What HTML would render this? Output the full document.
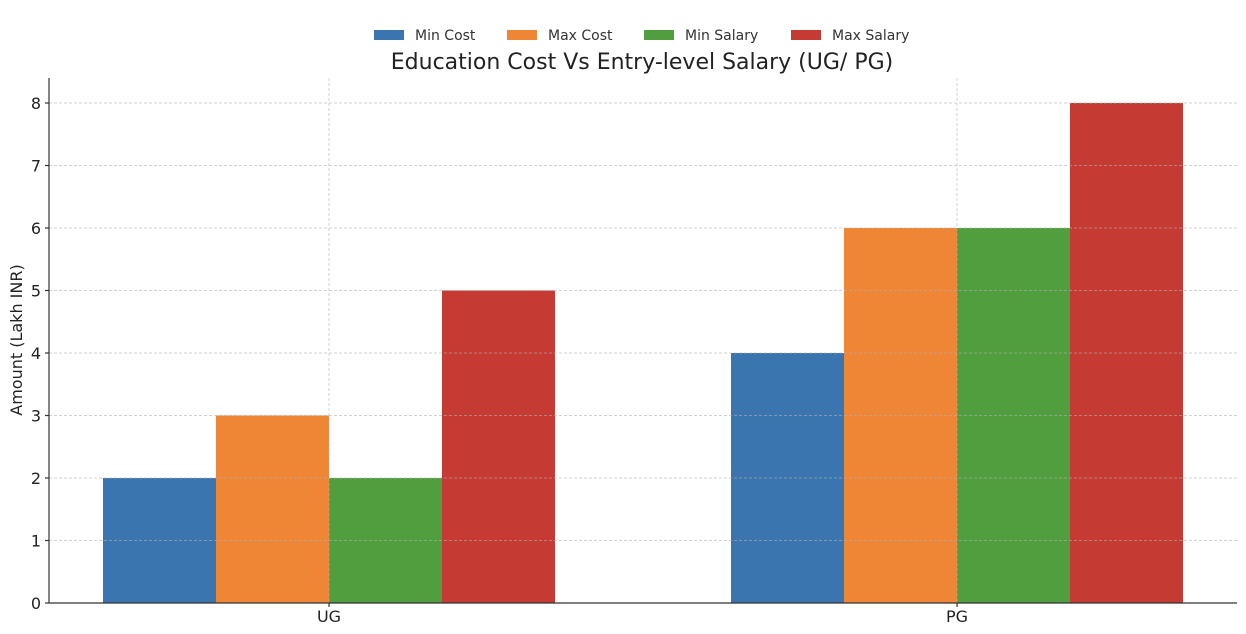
<!DOCTYPE html>
<html><head><meta charset="utf-8"><style>html,body{margin:0;padding:0;background:#fff}svg{display:block}</style></head>
<body>
<svg width="1246" height="634" xmlns="http://www.w3.org/2000/svg" font-family="DejaVu Sans, Liberation Sans, sans-serif">
<g>
<rect x="103" y="478" width="113" height="125" fill="#3a75af"/>
<rect x="216" y="415.5" width="113" height="187.5" fill="#ef8636"/>
<rect x="329" y="478" width="113" height="125" fill="#519e3e"/>
<rect x="442" y="290.5" width="113" height="312.5" fill="#c53a32"/>
<rect x="731" y="353" width="113" height="250" fill="#3a75af"/>
<rect x="844" y="228" width="113" height="375" fill="#ef8636"/>
<rect x="957" y="228" width="113" height="375" fill="#519e3e"/>
<rect x="1070" y="103" width="113" height="500" fill="#c53a32"/>
</g>
<g stroke="#b0b0b0" stroke-opacity="0.6" stroke-width="1" stroke-dasharray="3,2">
<line x1="49" x2="1237" y1="540.5" y2="540.5"/>
<line x1="49" x2="1237" y1="478" y2="478"/>
<line x1="49" x2="1237" y1="415.5" y2="415.5"/>
<line x1="49" x2="1237" y1="353" y2="353"/>
<line x1="49" x2="1237" y1="290.5" y2="290.5"/>
<line x1="49" x2="1237" y1="228" y2="228"/>
<line x1="49" x2="1237" y1="165.5" y2="165.5"/>
<line x1="49" x2="1237" y1="103" y2="103"/>
<line x1="329" x2="329" y1="78" y2="603"/>
<line x1="957" x2="957" y1="78" y2="603"/>
</g>
<g stroke="#333" stroke-width="1.2">
<line x1="49" x2="49" y1="78" y2="603"/>
<line x1="49" x2="1237" y1="603" y2="603"/>
<line x1="45" x2="49" y1="603" y2="603"/><line x1="45" x2="49" y1="540.5" y2="540.5"/>
<line x1="45" x2="49" y1="478" y2="478"/><line x1="45" x2="49" y1="415.5" y2="415.5"/>
<line x1="45" x2="49" y1="353" y2="353"/><line x1="45" x2="49" y1="290.5" y2="290.5"/>
<line x1="45" x2="49" y1="228" y2="228"/><line x1="45" x2="49" y1="165.5" y2="165.5"/>
<line x1="45" x2="49" y1="103" y2="103"/>
<line x1="329" x2="329" y1="603" y2="607"/><line x1="957" x2="957" y1="603" y2="607"/>
</g>
<g font-size="16" fill="#222" text-anchor="end">
<text x="41" y="609">0</text><text x="41" y="546.5">1</text><text x="41" y="484">2</text>
<text x="41" y="421.5">3</text><text x="41" y="359">4</text><text x="41" y="296.5">5</text>
<text x="41" y="234">6</text><text x="41" y="171.5">7</text><text x="41" y="109">8</text>
</g>
<g font-size="16" fill="#222" text-anchor="middle">
<text x="329" y="622">UG</text><text x="957" y="622">PG</text>
</g>
<text transform="translate(22,340) rotate(-90)" font-size="16" fill="#222" text-anchor="middle">Amount (Lakh INR)</text>
<text x="642" y="69" font-size="22" fill="#222" text-anchor="middle">Education Cost Vs Entry-level Salary (UG/ PG)</text>
<g font-size="14" fill="#333">
<rect x="374" y="30" width="30" height="10" fill="#3a75af"/><text x="415" y="40">Min Cost</text>
<rect x="507" y="30" width="30" height="10" fill="#ef8636"/><text x="548" y="40">Max Cost</text>
<rect x="644" y="30" width="30" height="10" fill="#519e3e"/><text x="685" y="40">Min Salary</text>
<rect x="791" y="30" width="30" height="10" fill="#c53a32"/><text x="832" y="40">Max Salary</text>
</g>
</svg>
</body></html>
